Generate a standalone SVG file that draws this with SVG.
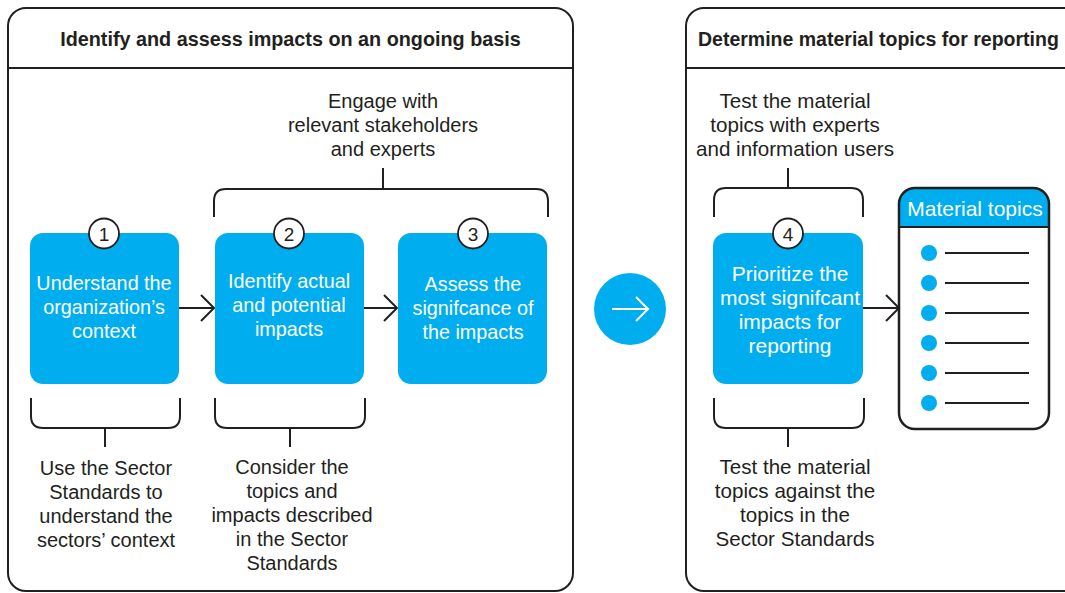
<svg xmlns="http://www.w3.org/2000/svg" width="1065" height="593" viewBox="0 0 1065 593">
  <style>
    .panel { fill: #ffffff; stroke: #231f20; stroke-width: 2; }
    .rule { stroke: #231f20; stroke-width: 2; fill: none; }
    .bracket { stroke: #231f20; stroke-width: 2; fill: none; }
    .step { fill: #00aeef; }
    .num { fill: #ffffff; stroke: #231f20; stroke-width: 1.8; }
    .title { font-family: "Liberation Sans", Arial, sans-serif; font-weight: bold; font-size: 19.8px; fill: #231f20; }
    .title-r { font-size: 19.5px; }
    .label { font-family: "Liberation Sans", Arial, sans-serif; font-size: 20px; fill: #231f20; text-anchor: middle; }
    .label-r { font-size: 20.6px; }
    .inbox { font-family: "Liberation Sans", Arial, sans-serif; font-size: 19.8px; fill: #ffffff; text-anchor: middle; }
    .inbox-l { font-size: 21px; }
    .numtxt { font-family: "Liberation Sans", Arial, sans-serif; font-size: 19px; fill: #231f20; text-anchor: middle; }
    .link { stroke: #231f20; stroke-width: 2; fill: none; }
    .bullet { fill: #00aeef; }
    .bline { stroke: #231f20; stroke-width: 1.8; }
  </style>

  <!-- Panel: identify and assess -->
  <g id="panel-identify">
    <rect class="panel" x="8" y="8" width="565" height="583" rx="18"/>
    <line class="rule" x1="8" y1="68" x2="573" y2="68"/>
    <text class="title" x="290.5" y="46" text-anchor="middle">Identify and assess impacts on an ongoing basis</text>
  </g>

  <!-- Panel: determine material topics -->
  <g id="panel-determine">
    <rect class="panel" x="686" y="8" width="400" height="583" rx="18"/>
    <line class="rule" x1="686" y1="68" x2="1065" y2="68"/>
    <text class="title title-r" x="698" y="46">Determine material topics for reporting</text>
  </g>

  <!-- Brackets and their notes -->
  <g id="note-engage">
    <path class="bracket" d="M214,217 V201 Q214,189 226,189 H536 Q548,189 548,201 V217 M383,189 V168"/>
    <text class="label" x="383" y="108">Engage with</text>
    <text class="label" x="383" y="132">relevant stakeholders</text>
    <text class="label" x="383" y="156">and experts</text>
  </g>
  <g id="note-sector-context">
    <path class="bracket" d="M31,398 V416 Q31,428 43,428 H168 Q180,428 180,416 V398 M105,428 V447"/>
    <text class="label" x="106" y="475">Use the Sector</text>
    <text class="label" x="106" y="499">Standards to</text>
    <text class="label" x="106" y="523">understand the</text>
    <text class="label" x="106" y="547">sectors’ context</text>
  </g>
  <g id="note-sector-topics">
    <path class="bracket" d="M215,398 V416 Q215,428 227,428 H353 Q365,428 365,416 V398 M290,428 V447"/>
    <text class="label" x="292" y="474">Consider the</text>
    <text class="label" x="292" y="498">topics and</text>
    <text class="label" x="292" y="522">impacts described</text>
    <text class="label" x="292" y="546">in the Sector</text>
    <text class="label" x="292" y="570">Standards</text>
  </g>
  <g id="note-test-experts">
    <path class="bracket" d="M714,217 V200 Q714,188 726,188 H851 Q863,188 863,200 V217 M788,188 V168"/>
    <text class="label label-r" x="795" y="108">Test the material</text>
    <text class="label label-r" x="795" y="132">topics with experts</text>
    <text class="label label-r" x="795" y="156">and information users</text>
  </g>
  <g id="note-test-standards">
    <path class="bracket" d="M714,398 V416 Q714,428 726,428 H852 Q864,428 864,416 V398 M788,428 V447"/>
    <text class="label label-r" x="795" y="474">Test the material</text>
    <text class="label label-r" x="795" y="498">topics against the</text>
    <text class="label label-r" x="795" y="522">topics in the</text>
    <text class="label label-r" x="795" y="546">Sector Standards</text>
  </g>

  <!-- Connectors -->
  <g id="connectors">
    <path class="link" d="M179,308 H214 M201,295 L214,308 L201,321"/>
    <path class="link" d="M364,308 H397 M384,295 L397,308 L384,321"/>
    <path class="link" d="M863,308 H899 M886,295 L899,308 L886,321"/>
  </g>

  <!-- Step 1 -->
  <g id="step-1">
    <rect class="step" x="30" y="233" width="149" height="151" rx="13"/>
    <circle class="num" cx="104" cy="233.5" r="15"/>
    <text class="numtxt" x="104" y="240.5">1</text>
    <text class="inbox" x="104" y="290">Understand the</text>
    <text class="inbox" x="104" y="314">organization’s</text>
    <text class="inbox" x="104" y="338">context</text>
  </g>

  <!-- Step 2 -->
  <g id="step-2">
    <rect class="step" x="215" y="233" width="149" height="151" rx="13"/>
    <circle class="num" cx="289" cy="233.5" r="15"/>
    <text class="numtxt" x="289" y="240.5">2</text>
    <text class="inbox" x="289" y="288">Identify actual</text>
    <text class="inbox" x="289" y="312">and potential</text>
    <text class="inbox" x="289" y="336">impacts</text>
  </g>

  <!-- Step 3 -->
  <g id="step-3">
    <rect class="step" x="398" y="233" width="149" height="151" rx="13"/>
    <circle class="num" cx="473" cy="233.5" r="15"/>
    <text class="numtxt" x="473" y="240.5">3</text>
    <text class="inbox" x="473" y="291">Assess the</text>
    <text class="inbox" x="473" y="315">signifcance of</text>
    <text class="inbox" x="473" y="339">the impacts</text>
  </g>

  <!-- Transition marker between panels -->
  <g id="transition">
    <circle cx="630" cy="309" r="36" fill="#00aeef"/>
    <path d="M612,309 H648 M636,297 L648,309 L636,321" stroke="#ffffff" stroke-width="2" fill="none"/>
  </g>

  <!-- Step 4 -->
  <g id="step-4">
    <rect class="step" x="713" y="233" width="150" height="151" rx="13"/>
    <circle class="num" cx="788" cy="233.5" r="15"/>
    <text class="numtxt" x="788" y="240.5">4</text>
    <text class="inbox inbox-l" x="790" y="281">Prioritize the</text>
    <text class="inbox inbox-l" x="790" y="305">most signifcant</text>
    <text class="inbox inbox-l" x="790" y="329">impacts for</text>
    <text class="inbox inbox-l" x="790" y="353">reporting</text>
  </g>

  <!-- Material topics list -->
  <g id="material-topics">
    <path d="M899,227 V204 Q899,188 915,188 H1033 Q1049,188 1049,204 V227 Z" fill="#00aeef"/>
    <rect x="899" y="188" width="150" height="241" rx="16" fill="none" stroke="#231f20" stroke-width="2.5"/>
    <line x1="899" y1="227" x2="1049" y2="227" stroke="#231f20" stroke-width="2"/>
    <text class="inbox inbox-l" x="975" y="216">Material topics</text>
    <circle class="bullet" cx="929" cy="253" r="8"/>
    <circle class="bullet" cx="929" cy="283" r="8"/>
    <circle class="bullet" cx="929" cy="313" r="8"/>
    <circle class="bullet" cx="929" cy="343" r="8"/>
    <circle class="bullet" cx="929" cy="373" r="8"/>
    <circle class="bullet" cx="929" cy="403" r="8"/>
    <line class="bline" x1="945" y1="253" x2="1029" y2="253"/>
    <line class="bline" x1="945" y1="283" x2="1029" y2="283"/>
    <line class="bline" x1="945" y1="313" x2="1029" y2="313"/>
    <line class="bline" x1="945" y1="343" x2="1029" y2="343"/>
    <line class="bline" x1="945" y1="373" x2="1029" y2="373"/>
    <line class="bline" x1="945" y1="403" x2="1029" y2="403"/>
  </g>
</svg>
